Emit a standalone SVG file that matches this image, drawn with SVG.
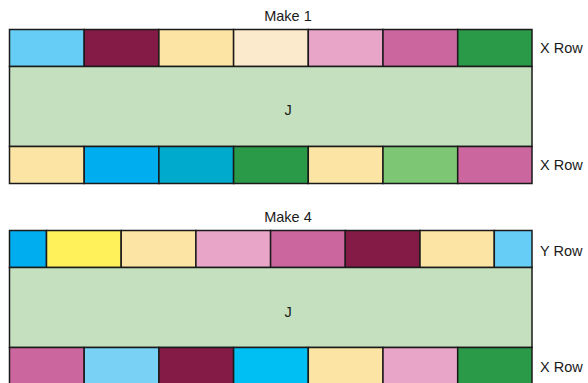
<svg xmlns="http://www.w3.org/2000/svg" width="588" height="383" viewBox="0 0 588 383">
<style>
rect{stroke:#1a1a1a;stroke-width:1.5}
text{font-family:"Liberation Sans",Arial,sans-serif;font-size:14.5px;fill:#1a1a1a}
.c{text-anchor:middle}
</style>
<rect width="588" height="383" fill="#fff" style="stroke:none"/>
<g id="make1">
<text class="c" x="288" y="20.5">Make 1</text>
<g id="m1-top">
<rect x="9.5" y="29.5" width="74.7" height="37" fill="#66CDF6"/>
<rect x="84.2" y="29.5" width="74.7" height="37" fill="#841B47"/>
<rect x="158.9" y="29.5" width="74.7" height="37" fill="#FCE5A4"/>
<rect x="233.6" y="29.5" width="74.7" height="37" fill="#FBEACB"/>
<rect x="308.3" y="29.5" width="74.7" height="37" fill="#E9A5C8"/>
<rect x="383" y="29.5" width="74.7" height="37" fill="#CB669E"/>
<rect x="457.7" y="29.5" width="74.3" height="37" fill="#2B9A48"/>
</g>
<g id="m1-j"><rect x="9.5" y="66.5" width="522.5" height="80" fill="#C5E0BE"/><text class="c" x="288" y="115">J</text></g>
<g id="m1-bottom">
<rect x="9.5" y="146.5" width="74.7" height="37" fill="#FCE5A4"/>
<rect x="84.2" y="146.5" width="74.7" height="37" fill="#00AEEF"/>
<rect x="158.9" y="146.5" width="74.7" height="37" fill="#00AACC"/>
<rect x="233.6" y="146.5" width="74.7" height="37" fill="#2B9A48"/>
<rect x="308.3" y="146.5" width="74.7" height="37" fill="#FCE5A4"/>
<rect x="383" y="146.5" width="74.7" height="37" fill="#7DC673"/>
<rect x="457.7" y="146.5" width="74.3" height="37" fill="#CB669E"/>
</g>
<text x="540" y="53">X Row</text>
<text x="540" y="170">X Row</text>
</g>
<g id="make4">
<text class="c" x="288" y="222">Make 4</text>
<g id="m4-top">
<rect x="9.5" y="230.5" width="37" height="37" fill="#00AEEF"/>
<rect x="46.5" y="230.5" width="74.7" height="37" fill="#FFF15A"/>
<rect x="121.2" y="230.5" width="74.7" height="37" fill="#FCE5A4"/>
<rect x="195.9" y="230.5" width="74.7" height="37" fill="#E9A5C8"/>
<rect x="270.6" y="230.5" width="74.7" height="37" fill="#CB669E"/>
<rect x="345.3" y="230.5" width="74.7" height="37" fill="#841B47"/>
<rect x="420" y="230.5" width="74.3" height="37" fill="#FCE5A4"/>
<rect x="494.3" y="230.5" width="37.7" height="37" fill="#66CDF6"/>
</g>
<g id="m4-j"><rect x="9.5" y="267.5" width="522.5" height="80" fill="#C5E0BE"/><text class="c" x="288" y="317">J</text></g>
<g id="m4-bottom">
<rect x="9.5" y="347.5" width="74.7" height="37" fill="#CB669E"/>
<rect x="84.2" y="347.5" width="74.7" height="37" fill="#79D1F6"/>
<rect x="158.9" y="347.5" width="74.7" height="37" fill="#841B47"/>
<rect x="233.6" y="347.5" width="74.7" height="37" fill="#00BFF3"/>
<rect x="308.3" y="347.5" width="74.7" height="37" fill="#FCE5A4"/>
<rect x="383" y="347.5" width="74.7" height="37" fill="#E9A5C8"/>
<rect x="457.7" y="347.5" width="74.3" height="37" fill="#2B9A48"/>
</g>
<text x="540" y="255.5">Y Row</text>
<text x="540" y="372">X Row</text>
</g>
</svg>
